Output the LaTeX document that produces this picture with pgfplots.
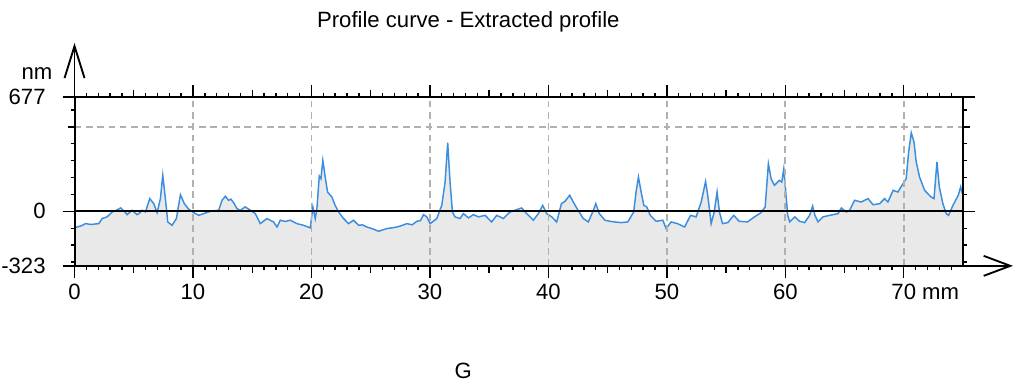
\documentclass[border=0pt]{standalone}
\usepackage{fontspec}
\setmainfont{Liberation Sans}
\usepackage{pgfplots}
\pgfplotsset{compat=1.18}
\usepgfplotslibrary{fillbetween}
\usepackage{pgfplotstable}
\usetikzlibrary{arrows.meta}
\definecolor{curve}{HTML}{3A8EE0}
\definecolor{fillg}{HTML}{E9E9E9}
\definecolor{gridg}{HTML}{B0B0B0}

\pgfplotstableread{
x y
0 -95
0.22 -93
0.6 -85
0.93 -73
1.4 -78
2.05 -73
2.33 -43
2.75 -33
3.18 -4
3.5 5
3.9 20
4.2 0
4.44 -20
4.86 6
5.28 -20
5.5 -10
5.7 6
5.99 -4
6.35 75
6.69 45
6.97 -8
7.25 75
7.45 213
7.67 75
7.87 -63
8.23 -83
8.6 -43
8.94 98
9.27 45
9.64 12
10.06 -8
10.48 -24
10.9 -14
11.47 0
12.17 6
12.45 65
12.74 89
13.0 65
13.2 72
13.43 51
13.71 16
14.0 6
14.4 26
14.85 6
15.26 -14
15.68 -73
16.24 -43
16.8 -63
17.09 -93
17.37 -53
17.8 -60
18.21 -53
18.77 -73
19.34 -83
19.9 -98
20.12 26
20.32 -43
20.46 16
20.66 209
20.8 193
20.96 301
21.16 203
21.36 114
21.72 85
22.0 35
22.29 -4
22.71 -43
23.13 -73
23.55 -53
23.98 -83
24.3 -80
24.68 -93
25.2 -105
25.66 -118
26.37 -102
26.8 -98
27.21 -93
27.6 -85
28.06 -73
28.5 -80
28.9 -59
29.2 -55
29.46 -20
29.74 -33
30.02 -73
30.58 -43
31.0 35
31.28 173
31.5 406
31.7 173
31.9 -4
32.12 -33
32.54 -43
32.83 -14
33.25 -39
33.67 -20
34.1 -33
34.66 -24
35.2 -63
35.64 -24
36.2 -43
36.76 -4
37.18 6
37.74 20
38.17 -14
38.73 -53
39.15 -14
39.52 35
39.86 -14
40.28 -33
40.7 -63
41.1 45
41.4 59
41.8 95
42.1 55
42.5 6
42.95 -43
43.37 -63
43.8 6
44.0 45
44.3 -14
44.77 -53
45.19 -59
45.59 -63
46.15 -67
46.7 -63
47.2 -4
47.4 114
47.6 203
47.83 114
48.06 35
48.3 26
48.6 -24
49.1 -59
49.66 -53
49.94 -102
50.36 -63
50.9 -73
51.5 -93
52.0 -24
52.47 -33
52.9 55
53.27 177
53.45 95
53.74 -73
54.0 -4
54.24 114
54.44 -4
54.7 -73
55.14 -67
55.65 -24
56.1 -59
56.8 -63
57.4 -33
57.95 -8
58.3 26
58.57 282
58.8 193
59.08 154
59.5 183
59.7 173
59.87 252
60.0 144
60.2 -24
60.37 -63
60.8 -33
61.2 -59
61.63 -67
62.05 -24
62.3 31
62.5 -24
62.76 -63
63.18 -33
63.75 -24
64.45 -14
64.73 20
65.15 -4
65.43 6
65.85 65
66.4 55
66.98 75
67.4 39
67.96 45
68.38 75
68.66 55
69.1 124
69.5 114
69.93 163
70.2 193
70.41 351
70.63 465
70.86 410
71.05 292
71.33 203
71.76 124
72.3 85
72.55 75
72.8 292
73.0 144
73.3 45
73.58 -14
73.78 -24
74.15 35
74.6 95
74.8 144
74.95 104
}\profile

\begin{document}
\begin{tikzpicture}[font=\fontsize{16.6}{19}\selectfont]
\begin{axis}[
  at={(0,0)}, anchor=south west,
  scale only axis, width=666.75pt, height=126.75pt,
  xmin=0, xmax=75, ymin=-323, ymax=677,
  axis on top,
  axis line style={line width=1.5pt},
  tick align=outside,
  tick style={black, line width=1pt},
  major tick length=9pt, minor tick length=3pt,
  xtick={0,10,...,70},
  xticklabels={0,10,20,30,40,50,60,{70\rlap{ mm}}},
  minor xtick={1,2,...,74},
  extra x ticks={5,15,...,65},
  extra x tick labels={},
  extra x tick style={grid=none, major tick length=5pt},
  xmajorgrids,
  grid style={gridg, dash pattern=on 5pt off 3.5pt, line width=1.3pt},
  ytick={-323,0,677},
  yticklabels={-323,0,677},
  minor ytick={-300,-200,...,600},
  extra y ticks={500},
  extra y tick labels={},
  extra y tick style={grid=major, major tick length=5pt},
  ticklabel style={font=\fontsize{16.6}{19}\selectfont},
  yticklabel style={xshift=-11.5pt, inner sep=1pt},
  xticklabel style={yshift=-1.5pt},
]
\addplot[draw=none, name path=c] table {\profile};
\addplot[draw=none, name path=b] coordinates {(0,-323) (75,-323)};
\addplot[fillg] fill between[of=c and b];
\addplot[curve, line width=1.1pt] table {\profile};
\draw[black, line width=1.6pt] (axis cs:0,0) -- (axis cs:75,0);
\end{axis}
\draw[line width=1.4pt, -{Straight Barb[length=24pt, width=15pt, line width=1.4pt]}] (0,0) -- (0,167.25pt);
\draw[line width=1.4pt, -{Straight Barb[length=20pt, width=15pt, line width=1.4pt]}] (666.75pt,0) -- (704.25pt,0);
\node[anchor=base] at (295.5pt,178.5pt) {Profile curve - Extracted profile};
\node[anchor=base east, inner sep=0pt] at (-16.5pt,139.5pt) {nm};
\node[anchor=base, inner sep=0pt] at (291.75pt,-84.75pt) {G};
\path (-55.5pt,-89.25pt) rectangle (706.5pt,199.5pt);
\end{tikzpicture}
\end{document}
